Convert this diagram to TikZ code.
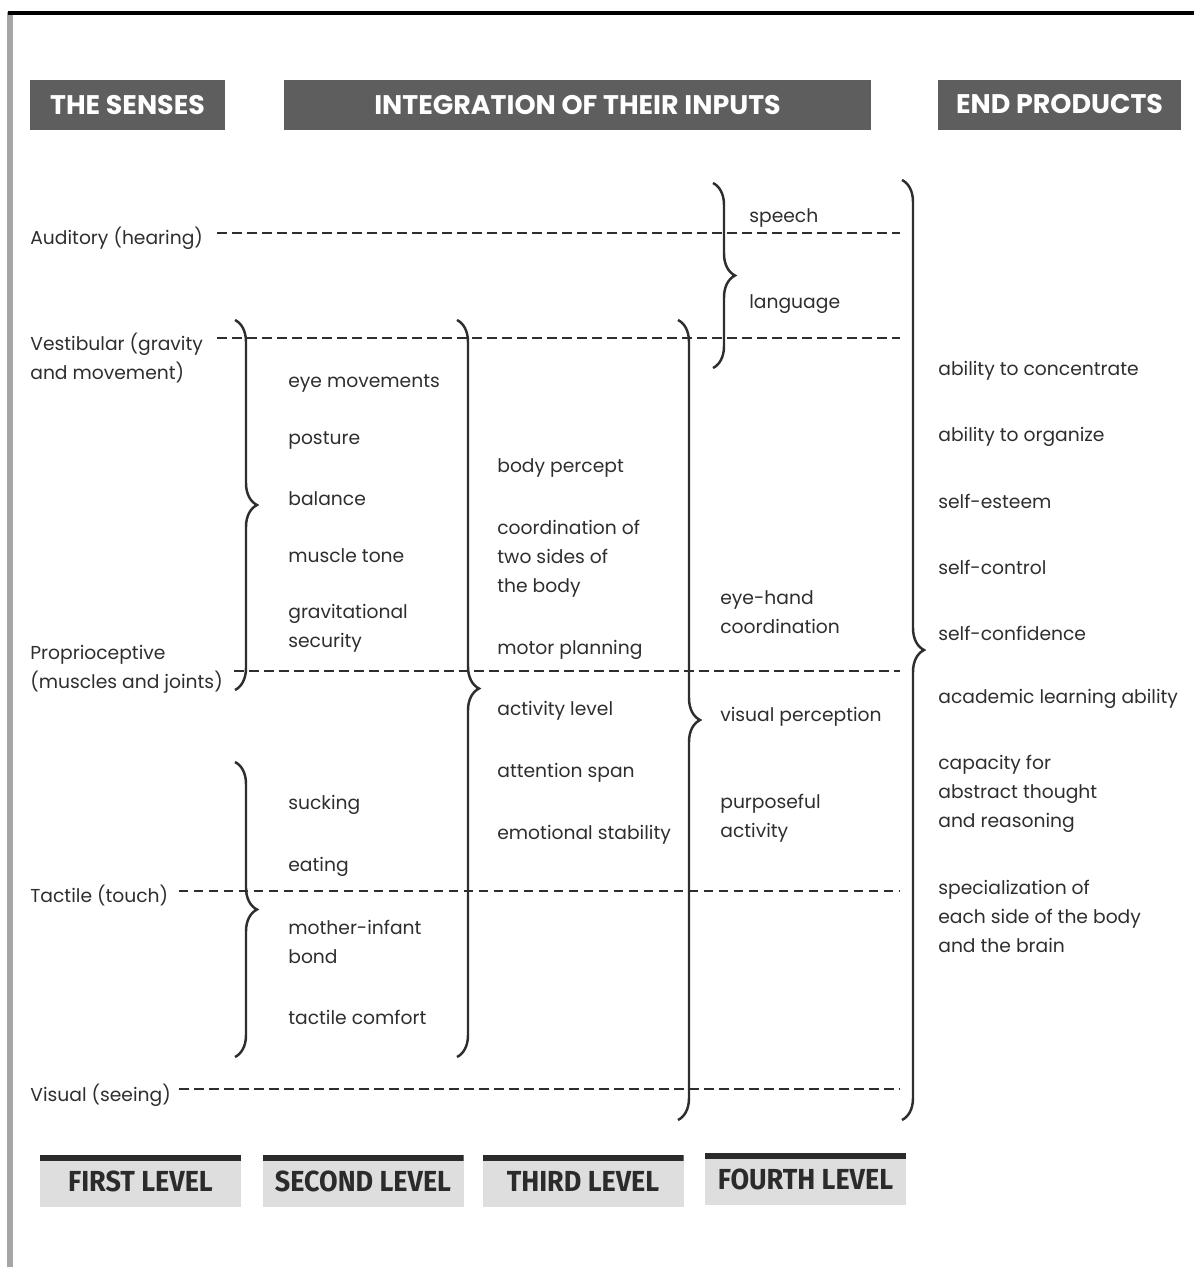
\documentclass[tikz,border=0pt]{standalone}
\usepackage{fontspec}
\setmainfont{Poppins}
\newfontfamily\lvlfont[FakeStretch=0.93]{Fira Sans}
\usetikzlibrary{positioning,decorations.pathreplacing,calc}
\definecolor{headgray}{HTML}{5E5E5E}
\definecolor{footgray}{HTML}{DEDEDE}
\definecolor{bargray}{HTML}{2B2B2B}
\definecolor{inkgray}{HTML}{2E2E2E}

\begin{document}
\begin{tikzpicture}[x=0.2mm,y=-0.2mm]
		% 定义样式
		\tikzstyle{head} = [rectangle, fill=headgray, text=white, minimum height=10mm, inner sep=0pt, font=\fontsize{15.3}{17}\selectfont\bfseries]	% 顶部标题
		\tikzstyle{level} = [rectangle, fill=footgray, text=bargray, minimum width=40.2mm, minimum height=10.4mm, inner sep=0pt, font=\lvlfont\fontsize{16.5}{18}\selectfont\bfseries,
			path picture={\fill[bargray] (path picture bounding box.north west) rectangle ([yshift=-1.2mm]path picture bounding box.north east);}]	% 底部层级
		\tikzstyle{txt} = [anchor=west, align=left, inner sep=0pt, text=inkgray, font=\fontsize{10.65}{16.5}\selectfont]	% 文字
		\tikzstyle{link} = [line width=1.3pt, inkgray, dash pattern=on 1.9mm off 1.1mm]	% 虚线
		\tikzstyle{grp} = [decorate, decoration={brace, amplitude=4.4mm}, line width=1.4pt, inkgray]	% 大括号
		\useasboundingbox (0,0) rectangle (1194,1267);
		
		% 页面边线
		\draw[line width=1.2mm, gray!70] (10,12) -- (10,1267);
		\draw[line width=0.8mm, black] (8,13) -- (1194,13);
		
		% 标题
		\node (hsen) [head, minimum width=39mm] at (127.5,105) {THE SENSES};
		\node (hint) [head, minimum width=117.4mm] at (577.5,105) {INTEGRATION OF THEIR INPUTS};
		\node (hend) [head, minimum width=48.6mm] at (1059.5,104.5) {END PRODUCTS};
		
		% 感觉
		\node (aud) [txt] at (30,238.5) {Auditory (hearing)};
		\node (ves) [txt] at (30,358) {Vestibular (gravity\\and movement)};
		\node (pro) [txt] at (30,669) {Proprioceptive\\(muscles and joints)};
		\node (tac) [txt] at (30,895.5) {Tactile (touch)};
		\node (vis) [txt] at (30,1095.5) {Visual (seeing)};
		
		% 第二层
		\node (eye) [txt] at (288,383.5) {eye movements};
		\node (pos) [txt] at (288,440.5) {posture};
		\node (bal) [txt] at (288,498.5) {balance};
		\node (mus) [txt] at (288,555.5) {muscle tone};
		\node (gra) [txt] at (288,628) {gravitational\\security};
		\node (suc) [txt] at (288,804.5) {sucking};
		\node (eat) [txt] at (288,866.5) {eating};
		\node (mot) [txt] at (288,942) {mother-infant\\bond};
		\node (tcf) [txt] at (288,1017.5) {tactile comfort};
		
		% 第三层
		\node (bod) [txt] at (497,468.5) {body percept};
		\node (crd) [txt] at (497,558.5) {coordination of\\two sides of\\the body};
		\node (mpl) [txt] at (497,649.5) {motor planning};
		\node (act) [txt] at (497,710.5) {activity level};
		\node (att) [txt] at (497,772.5) {attention span};
		\node (emo) [txt] at (497,834.5) {emotional stability};
		
		% 第四层
		\node (spe) [txt] at (749,218.5) {speech};
		\node (lan) [txt] at (749,304.5) {language};
		\node (ehc) [txt] at (720,612) {eye-hand\\coordination};
		\node (vpe) [txt] at (720,716.5) {visual perception};
		\node (pur) [txt] at (720,818) {purposeful\\activity};
		
		% 最终结果
		\node (con) [txt] at (938,370.5) {ability to concentrate};
		\node (org) [txt] at (938,436.5) {ability to organize};
		\node (est) [txt] at (938,501.5) {self-esteem};
		\node (ctl) [txt] at (938,567.5) {self-control};
		\node (cnf) [txt] at (938,633.5) {self-confidence};
		\node (aca) [txt] at (938,698.5) {academic learning ability};
		\node (abs) [txt] at (938,793.5) {capacity for\\abstract thought\\and reasoning};
		\node (spc) [txt] at (938,916.5) {specialization of\\each side of the body\\and the brain};
		
		% 底部层级
		\node (lv1) [level] at (140.5,1181) {FIRST LEVEL};
		\node (lv2) [level] at (363,1181) {SECOND LEVEL};
		\node (lv3) [level] at (583,1181) {THIRD LEVEL};
		\node (lv4) [level] at (805.5,1179) {FOURTH LEVEL};
		
		% 虚线终点
		\coordinate (audE) at (900,233);
		\coordinate (vesE) at (900,338);
		\coordinate (proE) at (900,671);
		\coordinate (tacE) at (900,891);
		\coordinate (visE) at (900,1089);
		
		% 连接虚线
		\draw [link]($(aud.east |- audE)+(14,0)$) -- (audE);
		\draw [link]($(ves.north east |- vesE)+(14,0)$) -- (vesE);
		\draw [link]($(pro.east |- proE)+(11,0)$) -- (proE);
		\draw [link]($(tac.east |- tacE)+(10,0)$) -- (tacE);
		\draw [link]($(vis.east |- visE)+(8,0)$) -- (visE);
		
		% 大括号
		\draw [grp](235,320) -- (235,690);
		\draw [grp](235,762) -- (235,1057);
		\draw [grp](457,320) -- (457,1057);
		\draw [grp](678,320) -- (678,1120);
		\draw [grp](713,183) -- (713,368);
		\draw [grp](902,180) -- (902,1120);
	\end{tikzpicture}
\end{document}
